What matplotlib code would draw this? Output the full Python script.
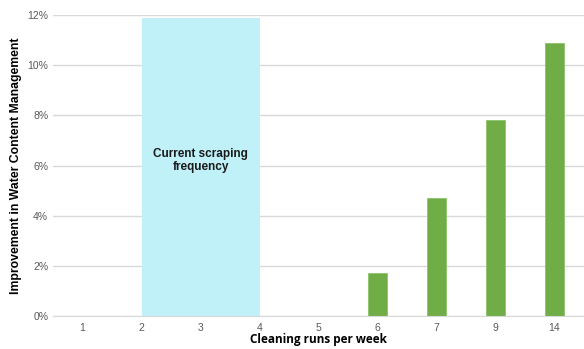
import matplotlib.pyplot as plt
from matplotlib.ticker import FuncFormatter

# cleaning runs per week and the improvement in water content (percent)
runs = ['1', '2', '3', '4', '5', '6', '7', '9', '14']
improvement = [0, 0, 0, 0, 0, 1.7, 4.7, 7.8, 10.9]

# current scraping frequency band (category span) and its height
band_start = '2'
band_end = '4'
band_top = 11.9

plt.rcParams['font.family'] = ['Liberation Sans', 'DejaVu Sans']

fig = plt.figure(figsize=(5.84, 3.49), dpi=100)
ax = fig.add_axes([0.0908, 0.0946, 0.9092, 0.862])

x = list(range(len(runs)))
x0 = runs.index(band_start)
x1 = runs.index(band_end)
ax.fill_between([x0, x1], 0, band_top, color='#C0F1F9', zorder=1, linewidth=0)
ax.text((x0 + x1) / 2, 6.2, 'Current scraping\nfrequency', ha='center', va='center',
        fontsize=8.5, fontweight='bold', color='#1a1a1a', zorder=3)

ax.bar(x, improvement, width=0.32, color='#70AD47', edgecolor='#8cc46a', linewidth=0.6, zorder=2)

ax.set_xlim(-0.5, len(runs) - 0.5)
ax.set_ylim(0, 12)
ax.set_yticks(range(0, 13, 2))
ax.yaxis.set_major_formatter(FuncFormatter(lambda v, p: '%d%%' % v))
ax.set_xticks(x)
ax.set_xticklabels(runs)

ax.grid(axis='y', color='#D9D9D9', linewidth=1, zorder=0)
ax.set_axisbelow(True)
for side in ['top', 'right', 'left']:
    ax.spines[side].set_visible(False)
ax.spines['bottom'].set_color('#D9D9D9')
ax.tick_params(axis='both', length=0, labelsize=7.5, colors='#595959')
ax.tick_params(axis='x', pad=5)

ax.set_ylabel('Improvement in Water Content Management', fontsize=8.8, fontweight='bold', labelpad=4)
ax.set_xlabel('Cleaning runs per week', fontsize=8.5, fontweight='bold', labelpad=0,
              family=['Open Sans', 'DejaVu Sans'])

plt.savefig('out.png', dpi=100)
